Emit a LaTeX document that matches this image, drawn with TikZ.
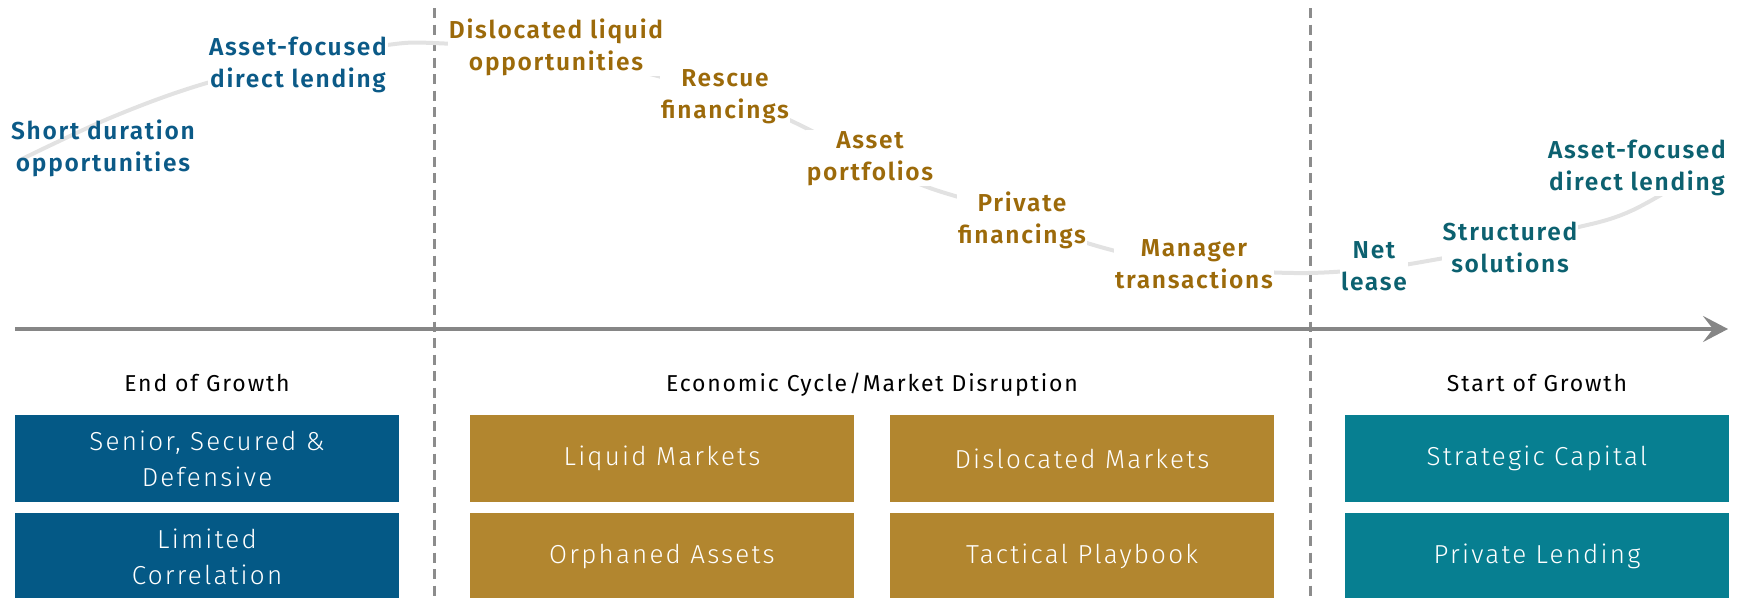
\documentclass[tikz,border=0pt]{standalone}
\usepackage{fontspec}
\setmainfont{Fira Sans}
\newfontfamily\phasefont{Fira Sans}[LetterSpace=8]
\newfontfamily\cellfont{Fira Sans Light}[LetterSpace=8.5]
\newfontfamily\lblfont{Fira Sans SemiBold}[LetterSpace=7]
\usetikzlibrary{arrows.meta}

\definecolor{boxblue}{HTML}{045986}
\definecolor{boxgold}{HTML}{B2862F}
\definecolor{boxteal}{HTML}{077F91}
\definecolor{txtblue}{HTML}{0B5A87}
\definecolor{txtgold}{HTML}{9C6A0A}
\definecolor{txtteal}{HTML}{0C6170}
\definecolor{curvegray}{HTML}{E2E2E2}
\definecolor{axisgray}{HTML}{868686}
\definecolor{dashgray}{HTML}{8C8C8C}

\tikzset{
  phase/.style={font=\phasefont\fontsize{23}{28}\selectfont, text=black, anchor=base, inner sep=0pt},
  cell/.style={minimum width=384pt, minimum height=87pt, inner sep=0pt, text=white,
    align=center, font=\cellfont\fontsize{26}{36}\selectfont},
  lbl/.style={font=\lblfont\fontsize{24.5}{32}\selectfont, align=center, anchor=base,
    fill=white, inner sep=1pt},
  divider/.style={dashgray, line width=3pt, dash pattern=on 10pt off 6.5pt},
  timeaxis/.style={axisgray, line width=3.5pt, -{Stealth[length=25pt, width=26pt, inset=10pt]}},
}

\begin{document}
\begin{tikzpicture}[x=1pt, y=-1pt]
\useasboundingbox (0,0) rectangle (1742,597);
\clip (0,0) rectangle (1742,597);

% phase dividers
\coordinate (d1t) at (434,8);   \coordinate (d1b) at (434,600);
\coordinate (d2t) at (1310,8);  \coordinate (d2b) at (1310,600);
\draw[divider] (d1t) -- (d1b);
\draw[divider] (d2t) -- (d2b);

% time axis
\coordinate (axL) at (15,329);
\coordinate (axR) at (1728,329);
\draw[timeaxis] (axL) -- (axR);

% cycle curve
\draw[curvegray, line width=4pt, line cap=round] plot[smooth, tension=0.6] coordinates {
  (20,160) (110,118) (200,85) (300,60) (387,45) (433,43) (520,50) (620,67)
  (700,88) (767,110) (840,145) (917,183) (983,205) (1087,243) (1167,262)
  (1233,270) (1308,273) (1380,268) (1433,260) (1500,247) (1567,230)
  (1633,210) (1723,157)};

% opportunities along the curve (anchored at the baseline of the last line)
\node[lbl, text=txtblue, fill=none] (sdo) at (103,171) {Short duration\\opportunities};
\node[lbl, text=txtblue] (afl) at (298,87) {Asset-focused\\direct lending};
\node[lbl, text=txtgold] (dlo) at (556,70) {Dislocated liquid\\opportunities};
\node[lbl, text=txtgold] (rsf) at (725,118) {Rescue\\financings};
\node[lbl, text=txtgold] (asp) at (870,180) {Asset\\portfolios};
\node[lbl, text=txtgold] (pvf) at (1022,243) {Private\\financings};
\node[lbl, text=txtgold] (mgt) at (1194,288) {Manager\\transactions};
\node[lbl, text=txtteal] (nls) at (1374,290) {Net\\lease};
\node[lbl, text=txtteal] (sts) at (1510,272) {Structured\\solutions};
\node[lbl, text=txtteal] (afr) at (1637,190) {Asset-focused\\direct lending};

% phase titles
\node[phase] (p1) at (207,391) {End of Growth};
\node[phase] (p2) at (872,391) {Economic Cycle/Market Disruption};
\node[phase] (p3) at (1537,391) {Start of Growth};

% strategy boxes
\node[cell, fill=boxblue] (b11) at (207,458.5) {Senior, Secured \&\\Defensive};
\node[cell, fill=boxblue] (b12) at (207,556.5) {Limited\\Correlation};
\node[cell, fill=boxgold] (b21) at (662,458.5) {Liquid Markets};
\node[cell, fill=boxgold] (b22) at (662,556.5) {Orphaned Assets};
\node[cell, fill=boxgold] (b31) at (1082,458.5) {Dislocated Markets};
\node[cell, fill=boxgold] (b32) at (1082,556.5) {Tactical Playbook};
\node[cell, fill=boxteal] (b41) at (1537,458.5) {Strategic Capital};
\node[cell, fill=boxteal] (b42) at (1537,556.5) {Private Lending};
\end{tikzpicture}
\end{document}
